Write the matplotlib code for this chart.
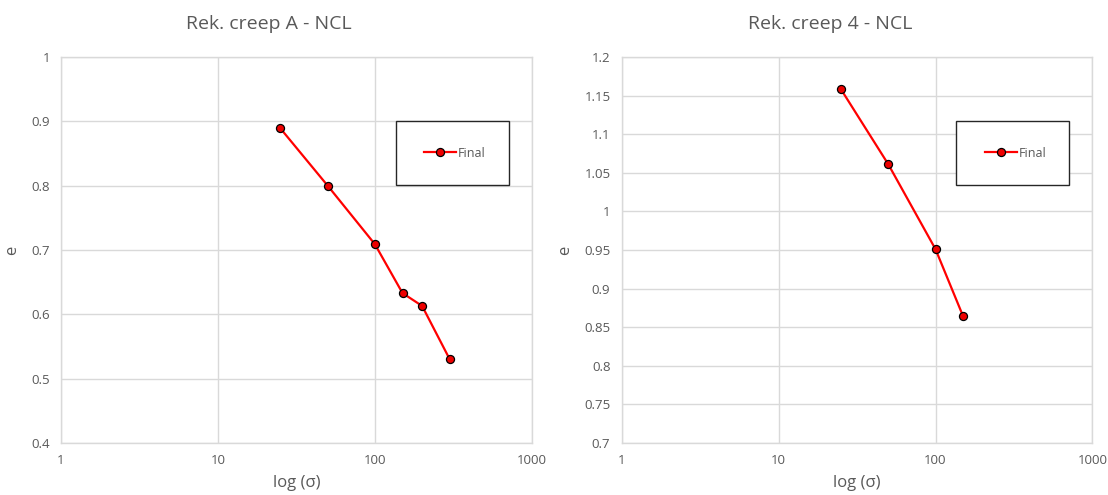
import matplotlib.pyplot as plt
from matplotlib.patches import Rectangle
from matplotlib.ticker import FixedLocator, FixedFormatter, NullLocator

plt.rcParams['font.family'] = ['Open Sans', 'DejaVu Sans']

# creep test A
sigma_a = [25, 50, 100, 150, 200, 300]
e_a = [0.889, 0.800, 0.709, 0.633, 0.613, 0.530]

# creep test 4
sigma_4 = [25, 50, 100, 150]
e_4 = [1.158, 1.061, 0.951, 0.864]

titles = ['Rek. creep A - NCL', 'Rek. creep 4 - NCL']
x_ticks = [1, 10, 100, 1000]
x_labels = ['1', '10', '100', '1000']
y_ticks_a = [0.4, 0.5, 0.6, 0.7, 0.8, 0.9, 1.0]
y_labels_a = ['0.4', '0.5', '0.6', '0.7', '0.8', '0.9', '1']
y_ticks_4 = [0.7, 0.75, 0.8, 0.85, 0.9, 0.95, 1.0, 1.05, 1.1, 1.15, 1.2]
y_labels_4 = ['0.7', '0.75', '0.8', '0.85', '0.9', '0.95', '1', '1.05', '1.1', '1.15', '1.2']

txt = '#595959'
grid = '#d9d9d9'

fig = plt.figure(figsize=(11.08, 4.95), dpi=100)
ax1 = fig.add_axes([0.055, 0.105, 0.425, 0.780])
ax2 = fig.add_axes([0.561, 0.105, 0.425, 0.780])

panels = [
    (ax1, sigma_a, e_a, y_ticks_a, y_labels_a, titles[0], 0.243),
    (ax2, sigma_4, e_4, y_ticks_4, y_labels_4, titles[1], 0.749),
]

for ax, xs, ys, yt, yl, title, tx in panels:
    ax.plot(xs, ys, color='#ff0000', lw=1.6, marker='o', ms=5.8,
            mfc='#ee0000', mec='black', mew=0.9, label='Final', zorder=3)
    ax.set_xscale('log')
    ax.set_xlim(1, 1000)
    ax.set_ylim(yt[0], yt[-1])
    ax.xaxis.set_major_locator(FixedLocator(x_ticks))
    ax.xaxis.set_major_formatter(FixedFormatter(x_labels))
    ax.xaxis.set_minor_locator(NullLocator())
    ax.yaxis.set_major_locator(FixedLocator(yt))
    ax.yaxis.set_major_formatter(FixedFormatter(yl))
    ax.grid(True, color=grid, lw=1.0)
    ax.set_axisbelow(True)
    for s in ax.spines.values():
        s.set_color(grid)
        s.set_linewidth(1.0)
    ax.tick_params(length=0, labelsize=9.5, colors=txt, pad=8)
    ax.set_xlabel('log (σ)', fontsize=12, color=txt, labelpad=6)
    ax.set_ylabel('e', fontsize=12, color=txt, labelpad=8)
    fig.text(tx, 0.952, title, ha='center', va='center', fontsize=14, color=txt)

    # legend box
    ax.add_patch(Rectangle((0.711, 0.668), 0.240, 0.166, transform=ax.transAxes,
                           fill=True, facecolor='white', edgecolor='#262626',
                           lw=1.0, zorder=4))
    leg = ax.legend(loc='center', bbox_to_anchor=(0.836, 0.751), frameon=False,
                    fontsize=9, handlelength=2.6, handletextpad=0.1,
                    labelcolor=txt)
    leg.set_zorder(5)

fig.savefig('out.png', dpi=100)
